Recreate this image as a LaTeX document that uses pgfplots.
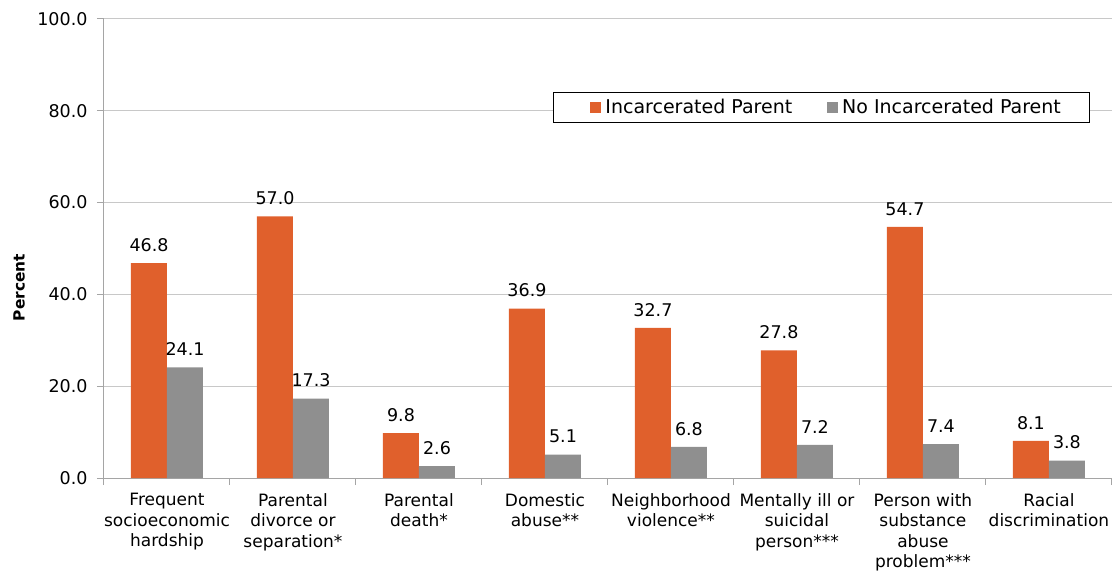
\documentclass[border=0pt]{standalone}
\usepackage{fontspec}
\setmainfont{DejaVu Sans}
\usepackage{pgfplots}
\pgfplotsset{compat=1.18}
\definecolor{orng}{RGB}{224,96,44}
\definecolor{gry}{RGB}{143,143,143}
\definecolor{axgray}{RGB}{165,165,165}
\definecolor{gridgray}{RGB}{200,200,200}
\pgfplotsset{/pgfplots/ybar legend/.style={/pgfplots/legend image code/.code={\path (-10pt,0pt) (13pt,0pt);\fill[##1] (0pt,-5.5pt) rectangle (11pt,5.5pt);}}}
\begin{document}
\begin{tikzpicture}
\begin{axis}[
  scale only axis, width=1008pt, height=459pt,
  xmin=-0.5, xmax=7.5, ymin=0, ymax=100,
  axis x line*=bottom, axis y line*=left,
  axis line style={draw=axgray, line width=1pt, -},
  ytick={0,20,...,100},
  ymajorgrids, grid style={draw=gridgray, line width=1pt},
  tick align=outside, major tick length=7pt,
  tick style={draw=axgray, line width=1pt},
  xtick={-0.5,0.5,1.5,2.5,3.5,4.5,5.5,6.5,7.5}, xticklabels={},
  extra x ticks={0,1,2,3,4,5,6,7},
  extra x tick labels={{Frequent\\socioeconomic\\hardship},{Parental\\divorce or\\separation*},{Parental\\death*},{Domestic\\abuse**},{Neighborhood\\violence**},{Mentally ill or\\suicidal\\person***},{Person with\\substance\\abuse\\problem***},{Racial\\discrimination}},
  extra x tick style={tick style={draw=none}, xticklabel style={align=center, font=\fontsize{17}{20.5}\selectfont, yshift=-5pt}},
  yticklabel style={font=\fontsize{17.5}{20}\selectfont, xshift=-6pt},
  /pgf/number format/.cd, fixed, fixed zerofill, precision=1, assume math mode=true, /pgfplots/.cd,
  ylabel={\textbf{Percent}},
  ylabel style={at={(axis description cs:0,0.415)}, anchor=center, yshift=85pt, font=\fontsize{15.4}{18}\selectfont},
  ybar, bar width=0.2857,
  nodes near coords,
  every node near coord/.append style={text=black, font=\fontsize{17.5}{20}\selectfont, yshift=8pt},
  legend style={at={(axis description cs:0.4454,0.841)}, anchor=north west, draw=black, line width=1pt, font=\fontsize{19}{22}\selectfont, inner xsep=27pt, inner ysep=5pt, nodes={inner sep=2pt}},
  legend columns=2,
  legend cell align=left,
  legend style={/tikz/every even column/.append style={column sep=23pt}},
]
\addplot[fill=orng, draw=none, bar shift=-0.14286] coordinates {(0,46.8) (1,57.0) (2,9.8) (3,36.9) (4,32.7) (5,27.8) (6,54.7) (7,8.1)};
\addplot[fill=gry, draw=none, bar shift=0.14286] coordinates {(0,24.1) (1,17.3) (2,2.6) (3,5.1) (4,6.8) (5,7.2) (6,7.4) (7,3.8)};
\legend{Incarcerated Parent, No Incarcerated Parent}
\end{axis}
\pgfresetboundingbox
\path[use as bounding box] (-104pt,-93pt) rectangle (1008pt,478pt);
\end{tikzpicture}
\end{document}
